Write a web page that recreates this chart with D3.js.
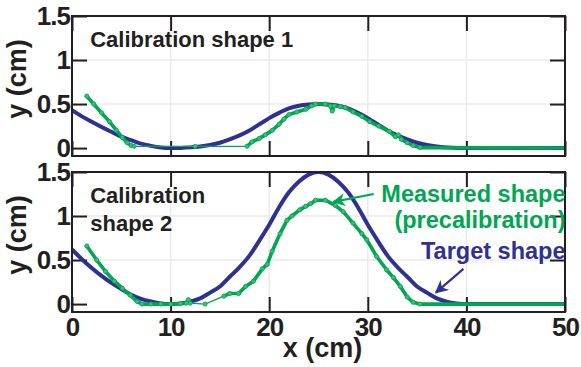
<!DOCTYPE html>
<html><head><meta charset="utf-8">
<script src="https://cdn.jsdelivr.net/npm/d3@7"></script>
<style>
html,body{margin:0;padding:0;background:#fff;}
svg{display:block;font-family:"Liberation Sans",Arial,Helvetica,sans-serif;font-weight:bold;}
</style></head>
<body>
<svg id="chart" width="581" height="367"></svg>
<script>
// ---------- data ----------
const xTicks = [0, 10, 20, 30, 40, 50];
const xTickLabels = ["0", "10", "20", "30", "40", "50"];
const yTicks = [0, 0.5, 1, 1.5];
const yTickLabels = ["0", "0.5", "1", "1.5"];
const gridX = [10, 20, 30, 40];
const gridY = [0.5, 1];

const targetX = [0,1,2,3,4,5,6,7,8,9,10,11,12,13,14,15,16,17,18,19,20,21,22,23,24,25,26,27,28,29,30,31,32,33,34,35,36,37,38,39,40,50];
const target1Y = [0.43,0.36,0.30,0.24,0.185,0.13,0.09,0.05,0.025,0.007,0,0.002,0.008,0.018,0.035,0.06,0.1,0.145,0.2,0.27,0.34,0.4,0.45,0.48,0.495,0.5,0.495,0.48,0.45,0.4,0.34,0.27,0.2,0.145,0.1,0.06,0.035,0.018,0.008,0.002,0,0];
const target2Y = [0.62,0.51,0.41,0.32,0.24,0.17,0.106,0.06,0.03,0.008,0,0.008,0.028,0.065,0.13,0.2,0.31,0.42,0.55,0.72,0.9,1.1,1.27,1.39,1.47,1.5,1.47,1.39,1.27,1.1,0.9,0.72,0.55,0.42,0.31,0.2,0.13,0.065,0.028,0.008,0,0];

// measured points; null marks a sparse (thin-line) gap
const measured1 = [[1.5,0.59],[2.2,0.5],[3,0.4],[3.8,0.3],[4.5,0.2],[5.1,0.12],[5.6,0.06],[6.0,0.03],[6.3,0.02],null,[12.5,0.02],null,[17.75,0.02],[18.25,0.07],[19,0.11],[19.6,0.15],[20.3,0.2],[21,0.27],[21.5,0.33],[22,0.38],[22.8,0.41],[23.7,0.44],[24.3,0.48],[24.7,0.5],[25.7,0.5],[26.2,0.48],[26.4,0.42],[26.6,0.48],[27.2,0.47],[27.7,0.46],[28.5,0.41],[29.4,0.36],[30.2,0.3],[31.1,0.25],[32.2,0.19],[32.8,0.13],[33.1,0.15],[33.4,0.1],[34,0.06],[34.6,0.03],[35.3,0.005],[50,0]];
const measured2 = [[1.5,0.66],[2.5,0.5],[3.4,0.37],[4.3,0.26],[5.1,0.18],[5.9,0.1],[6.6,0.03],[7.1,0],[8,0],[9,0],[10,0],[11,0.005],[11.6,0.01],[11.8,0.05],[12,0.01],null,[13.5,0],null,[15.4,0.09],[16,0.12],[16.9,0.12],[17.6,0.2],[18.4,0.26],[19.3,0.4],[19.8,0.45],[20.3,0.6],[21.1,0.8],[21.8,0.95],[22.3,1.0],[23.1,1.07],[23.7,1.11],[24.2,1.14],[24.7,1.18],[25.7,1.18],[26.7,1.12],[27.5,1.05],[28.5,0.92],[29.4,0.8],[29.9,0.73],[30.9,0.54],[31.9,0.39],[32.6,0.3],[33.3,0.2],[34,0.08],[34.6,0.02],[35.3,0],[50,0]];

const panelTitles = [["Calibration shape 1"], ["Calibration", "shape 2"]];
const legendMeasured = ["Measured shape", "(precalibration)"];
const legendTarget = "Target shape";

// ---------- layout ----------
const BLUE = "#2e3192", GREEN = "#00a651", INK = "#231f20";
const svg = d3.select("#chart");
const left = 72, right = 565;
const panels = [
  {top: 16, bottom: 156, target: target1Y, measured: measured1},
  {top: 172, bottom: 312, target: target2Y, measured: measured2}
];
const x = d3.scaleLinear().domain([0, 50]).range([left, right]);
const W = right - left;

svg.append("defs").selectAll("marker").data([["ag", GREEN], ["ab", BLUE]]).join("marker")
  .attr("id", d => d[0]).attr("viewBox", "0 0 10 10").attr("refX", 9).attr("refY", 5)
  .attr("markerWidth", 6).attr("markerHeight", 6).attr("orient", "auto").attr("markerUnits", "strokeWidth")
  .append("path").attr("d", "M0,0L10,5L0,10L3,5Z").attr("fill", d => d[1]);

panels.forEach((p, i) => {
  const y = d3.scaleLinear().domain([-0.09, 1.5]).range([p.bottom, p.top]);
  const H = p.bottom - p.top;
  const g = svg.append("g");
  const clipId = "clip" + i;
  svg.append("clipPath").attr("id", clipId).append("rect")
    .attr("x", left).attr("y", p.top).attr("width", W).attr("height", H);

  // gridlines
  g.append("g").selectAll("line").data(gridX).join("line")
    .attr("x1", d => x(d)).attr("x2", d => x(d)).attr("y1", p.top).attr("y2", p.bottom)
    .attr("stroke", "#ebebeb").attr("stroke-width", 1.5);
  g.append("g").selectAll("line").data(gridY).join("line")
    .attr("x1", left).attr("x2", right).attr("y1", d => y(d)).attr("y2", d => y(d))
    .attr("stroke", "#ebebeb").attr("stroke-width", 1.5);

  // axes with inward ticks (left, right, bottom, top)
  g.append("g").attr("transform", `translate(${left},0)`)
    .call(d3.axisLeft(y).tickValues(yTicks).tickSize(-15).tickPadding(2).tickFormat((d, k) => yTickLabels[k]));
  g.append("g").attr("transform", `translate(${right},0)`)
    .call(d3.axisRight(y).tickValues(yTicks).tickSize(-15).tickFormat(""));
  const bx = d3.axisBottom(x).tickValues(xTicks).tickSize(-15).tickPadding(6)
    .tickFormat(i === 1 ? (d, k) => xTickLabels[k] : "");
  g.append("g").attr("transform", `translate(0,${p.bottom})`).call(bx);
  g.append("g").attr("transform", `translate(0,${p.top})`).call(d3.axisTop(x).tickValues(xTicks).tickSize(-15).tickFormat(""));
  g.selectAll(".domain").remove();
  g.selectAll(".tick line").attr("stroke", INK).attr("stroke-width", 2);
  g.selectAll(".tick text").attr("fill", INK).attr("font-size", 26).attr("font-weight", "bold")
    .attr("font-family", "Liberation Sans, Arial, sans-serif").attr("letter-spacing", -1);

  // curves
  const cg = g.append("g").attr("clip-path", `url(#${clipId})`);
  const tline = d3.line().x(d => x(d[0])).y(d => y(d[1])).curve(d3.curveMonotoneX);
  cg.append("path").datum(targetX.map((v, k) => [v, p.target[k]]))
    .attr("d", tline).attr("fill", "none").attr("stroke", BLUE).attr("stroke-width", 4);

  const pts = p.measured.filter(d => d);
  const lin = d3.line().x(d => x(d[0])).y(d => y(d[1]));
  cg.append("path").datum(pts).attr("d", lin).attr("fill", "none").attr("stroke", GREEN).attr("stroke-width", 1.2);
  cg.append("path").datum(p.measured).attr("d", lin.defined(d => d !== null))
    .attr("fill", "none").attr("stroke", GREEN).attr("stroke-width", 3.6).attr("stroke-linejoin", "round");
  cg.selectAll("circle").data(pts.slice(0, -1)).join("circle")
    .attr("cx", d => x(d[0])).attr("cy", d => y(d[1])).attr("r", 2.1)
    .attr("fill", "#3dbb78").attr("stroke", GREEN).attr("stroke-width", 0.8);

  // frame
  g.append("rect").attr("x", left).attr("y", p.top).attr("width", W).attr("height", H)
    .attr("fill", "none").attr("stroke", INK).attr("stroke-width", 2);

  // y label
  svg.append("text").attr("transform", `translate(26,${p.top + 63}) rotate(-90)`)
    .attr("text-anchor", "middle").attr("font-size", 27).attr("fill", INK).text("y (cm)");

  // panel title
  const t = svg.append("text").attr("x", x(1.85)).attr("y", p.top + 31)
    .attr("font-size", 22).attr("fill", INK);
  panelTitles[i].forEach((s, k) => t.append("tspan").attr("x", x(1.85)).attr("dy", k ? 28 : 0).text(s));

  if (i === 1) {
    // legend annotations in data coordinates
    const lt = svg.append("text").attr("text-anchor", "end").attr("font-size", 23.5).attr("fill", GREEN);
    legendMeasured.forEach((s, k) => lt.append("tspan").attr("x", x(50.05)).attr("y", y(k ? 0.86 : 1.16)).text(s));
    svg.append("text").attr("text-anchor", "end").attr("font-size", 23.5).attr("fill", BLUE)
      .attr("x", x(50.05)).attr("y", y(0.51)).text(legendTarget);
    svg.append("line").attr("x1", x(30.6)).attr("y1", y(1.25)).attr("x2", x(26.5)).attr("y2", y(1.16))
      .attr("stroke", GREEN).attr("stroke-width", 2.2).attr("marker-end", "url(#ag)");
    svg.append("line").attr("x1", x(39.7)).attr("y1", y(0.4)).attr("x2", x(36.9)).attr("y2", y(0.13))
      .attr("stroke", BLUE).attr("stroke-width", 2.2).attr("marker-end", "url(#ab)");
    svg.append("text").attr("x", (left + right) / 2 + 4).attr("y", 357).attr("text-anchor", "middle")
      .attr("font-size", 27).attr("fill", INK).text("x (cm)");
  }
});
</script>
</body></html>
